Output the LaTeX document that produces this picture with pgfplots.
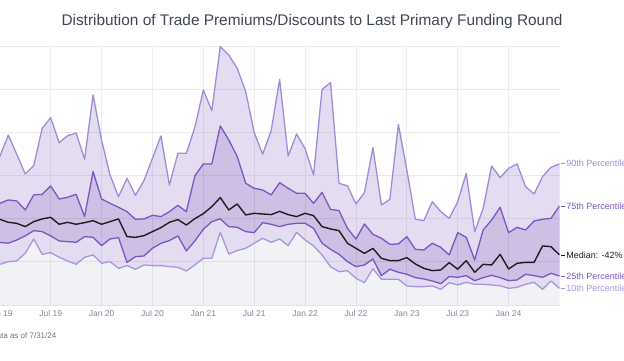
\documentclass[border=0pt]{standalone}
\usepackage{fontspec}
\setmainfont{Liberation Sans}
\usepackage{pgfplots}
\usepackage{pgfplotstable}
\usepgfplotslibrary{fillbetween}
\pgfplotsset{compat=1.18}
\definecolor{lninety}{HTML}{A18BD8}
\definecolor{lseventy}{HTML}{7C55C4}
\definecolor{lten}{HTML}{A895DC}
\definecolor{lmed}{HTML}{1E1E1E}
\definecolor{bandc}{RGB}{75,22,155}
\definecolor{grayf}{RGB}{100,110,140}
\definecolor{gridc}{HTML}{ECECEE}
\definecolor{tickc}{HTML}{7D8799}
\definecolor{titlec}{HTML}{3F4653}

\pgfplotstableread{
m p90 p75 med p25 p10
0 71.9 17.8 -0.7 -27.6 -52.9
1 96.9 21.7 -4.2 -28.4 -49.8
2 74.6 20.5 -5.4 -24.7 -49.0
3 51.8 10.1 -9.2 -20.0 -40.1
4 61.4 27.5 -3.4 -13.9 -23.5
5 104.7 28.2 -0.3 -15.0 -41.3
6 117.0 37.9 1.6 -20.0 -39.3
7 88.0 22.8 -6.5 -25.8 -44.7
8 96.1 24.8 -4.2 -26.6 -49.0
9 99.3 28.2 -6.5 -27.4 -52.9
10 68.8 2.4 -4.6 -20.8 -44.7
11 143.3 54.5 -2.3 -21.6 -42.0
12 91.2 22.8 -6.5 -31.2 -51.7
13 50.6 17.8 -3.4 -23.5 -49.8
14 25.5 13.2 -0.3 -22.0 -57.5
15 46.8 8.1 -20.8 -50.6 -54.4
16 27.1 -0.7 -21.6 -44.0 -58.6
17 44.1 -0.3 -19.7 -43.2 -53.6
18 69.9 3.9 -15.0 -34.3 -54.4
19 95.8 2.4 -10.4 -28.5 -54.4
20 39.0 8.1 -4.2 -25.4 -55.6
21 75.7 15.5 -1.1 -20.0 -56.3
22 75.7 8.1 -7.3 -37.4 -60.6
23 105.8 49.5 0.0 -25.8 -53.6
24 149.1 63.4 5.8 -12.3 -45.9
25 125.1 63.4 13.9 -3.4 -45.9
26 199.3 107.4 24.4 -0.3 -15.8
27 189.6 91.2 10.1 -9.2 -40.9
28 174.2 71.9 17.0 -10.0 -37.0
29 147.1 41.0 4.3 -15.0 -34.3
30 99.7 35.2 6.2 -16.2 -28.5
31 74.6 33.2 5.4 -4.6 -22.7
32 102.0 27.5 4.7 -6.5 -27.4
33 161.4 41.7 8.5 -9.2 -23.5
34 72.6 35.2 4.7 -6.5 -31.2
35 98.1 29.4 2.4 -5.4 -15.8
36 81.1 29.4 6.2 -5.4 -24.7
37 50.6 17.8 3.5 -11.2 -31.6
38 149.8 30.5 -9.2 -28.5 -42.0
39 157.6 10.8 -11.9 -35.5 -55.6
40 41.0 9.3 -13.9 -41.3 -61.4
41 37.9 -11.2 -28.5 -49.8 -60.2
42 17.0 -23.6 -34.4 -55.6 -69.1
43 30.2 -6.1 -40.2 -53.6 -74.1
44 82.3 -18.1 -34.4 -46.7 -57.9
45 15.9 -22.7 -45.9 -66.0 -70.2
46 22.4 -29.7 -48.6 -58.6 -70.2
47 109.3 -29.3 -48.6 -62.1 -70.2
48 56.4 -20.8 -45.1 -64.4 -77.9
49 -0.7 -35.5 -52.5 -68.3 -78.7
50 -2.3 -36.3 -57.5 -69.8 -78.7
51 19.7 -28.5 -60.2 -72.2 -77.9
52 8.1 -33.2 -59.4 -75.3 -81.8
53 0.4 -42.0 -50.9 -67.1 -74.1
54 19.7 -16.2 -58.6 -67.9 -76.8
55 52.5 -21.6 -48.6 -66.0 -73.7
56 -15.0 -47.8 -62.1 -71.8 -76.0
57 12.0 -13.1 -52.9 -68.3 -76.0
58 61.0 -1.5 -53.6 -65.6 -76.8
59 47.5 13.2 -41.3 -68.3 -77.6
60 58.3 -16.2 -58.3 -71.8 -80.7
61 63.4 -10.0 -51.7 -71.0 -79.5
62 37.1 -13.1 -50.6 -64.4 -76.0
63 28.6 -2.7 -50.6 -66.0 -73.7
64 48.7 -0.7 -31.6 -67.9 -81.8
65 59.5 0.4 -32.4 -63.3 -72.2
66 63.4 14.7 -42.0 -66.4 -80.7
}\datatab

\begin{document}
\begin{tikzpicture}[x=1pt,y=1pt]
\begin{axis}[
  at={(-0.2pt,55pt)}, anchor=south west,
  width=559.7pt, height=259pt, scale only axis,
  xmin=0, xmax=66, ymin=-100, ymax=200,
  clip mode=individual,
  axis line style={draw=none},
  xtick={0,6,...,60},
  xticklabels={Jan 19,Jul 19,Jan 20,Jul 20,Jan 21,Jul 21,Jan 22,Jul 22,Jan 23,Jul 23,Jan 24},
  ytick={-100,-50,0,50,100,150,200},
  yticklabels={},
  major tick length=0pt,
  xmajorgrids, ymajorgrids,
  grid style={draw=gridc, line width=0.9pt},
  xticklabel style={font=\fontsize{8.5}{10}\selectfont, text=tickc, yshift=-2pt},
  /pgf/number format/assume math mode=true,
]
\addplot[draw=none, name path=zero, forget plot] coordinates {(0,0) (66,0)};
\addplot[draw=none, name path=bot, forget plot] coordinates {(0,-100) (66,-100)};
\addplot[draw=none, name path=a90, forget plot] table[x=m,y=p90]{\datatab};
\addplot[draw=none, name path=a75, forget plot] table[x=m,y=p75]{\datatab};
\addplot[draw=none, name path=a25, forget plot] table[x=m,y=p25]{\datatab};
\addplot[draw=none, name path=a10, forget plot] table[x=m,y=p10]{\datatab};

\addplot[fill=grayf, fill opacity=0.09, draw=none, forget plot] fill between[of=a10 and bot];
\addplot[fill=bandc, fill opacity=0.15, draw=none, forget plot] fill between[of=a90 and a10];
\addplot[fill=bandc, fill opacity=0.15, draw=none, forget plot] fill between[of=a75 and a25];
\addplot[fill=bandc, fill opacity=0.15, draw=none, forget plot] fill between[of=a75 and zero, soft clip={domain y=-100:0}];

\draw[draw=gridc!80!black!20!gridc, line width=0.9pt] (rel axis cs:0,0) -- (rel axis cs:1,0);

\addplot[lninety, line width=1.3pt, line join=round] table[x=m,y=p90]{\datatab};
\addplot[lseventy, line width=1.3pt, line join=round] table[x=m,y=p75]{\datatab};
\addplot[lten, line width=1.3pt, line join=round] table[x=m,y=p10]{\datatab};
\addplot[lseventy, line width=1.3pt, line join=round] table[x=m,y=p25]{\datatab};
\addplot[lmed, line width=1.4pt, line join=round] table[x=m,y=med]{\datatab};

\draw[lninety, line width=0.6pt] (axis cs:66,64.2) ++(1.5pt,0pt) -- ++(3.5pt,0pt) node[right, inner sep=1.5pt, font=\fontsize{9}{10}\selectfont, text=lninety] {90th Percentile};
\draw[lseventy, line width=0.6pt] (axis cs:66,14.7) ++(1.5pt,0pt) -- ++(3.5pt,0pt) node[right, inner sep=1.5pt, font=\fontsize{9}{10}\selectfont, text=lseventy] {75th Percentile};
\draw[lmed, line width=0.6pt] (axis cs:66,-42.4) ++(1.5pt,0pt) -- ++(3.5pt,0pt) node[right, inner sep=1.5pt, font=\fontsize{9}{10}\selectfont, text=lmed] {Median: -42\%};
\draw[lseventy, line width=0.6pt] (axis cs:66,-66.4) ++(1.5pt,0pt) -- ++(3.5pt,0pt) node[right, inner sep=1.5pt, font=\fontsize{9}{10}\selectfont, text=lseventy] {25th Percentile};
\draw[lten, line width=0.6pt] (axis cs:66,-81.1) ++(1.5pt,0pt) -- ++(3.5pt,0pt) node[right, inner sep=1.5pt, font=\fontsize{9}{10}\selectfont, text=lten] {10th Percentile};
\end{axis}
\node[font=\fontsize{15.4}{18}\selectfont, text=titlec] at (312,338) {Distribution of Trade Premiums/Discounts to Last Primary Funding Round};
\node[anchor=east, font=\fontsize{8}{10}\selectfont, text=tickc!85!black, inner sep=0pt] at (56.5,24.4) {Data as of 7/31/24};
\pgfresetboundingbox
\path[use as bounding box] (0,0) rectangle (624,360);
\end{tikzpicture}
\end{document}
